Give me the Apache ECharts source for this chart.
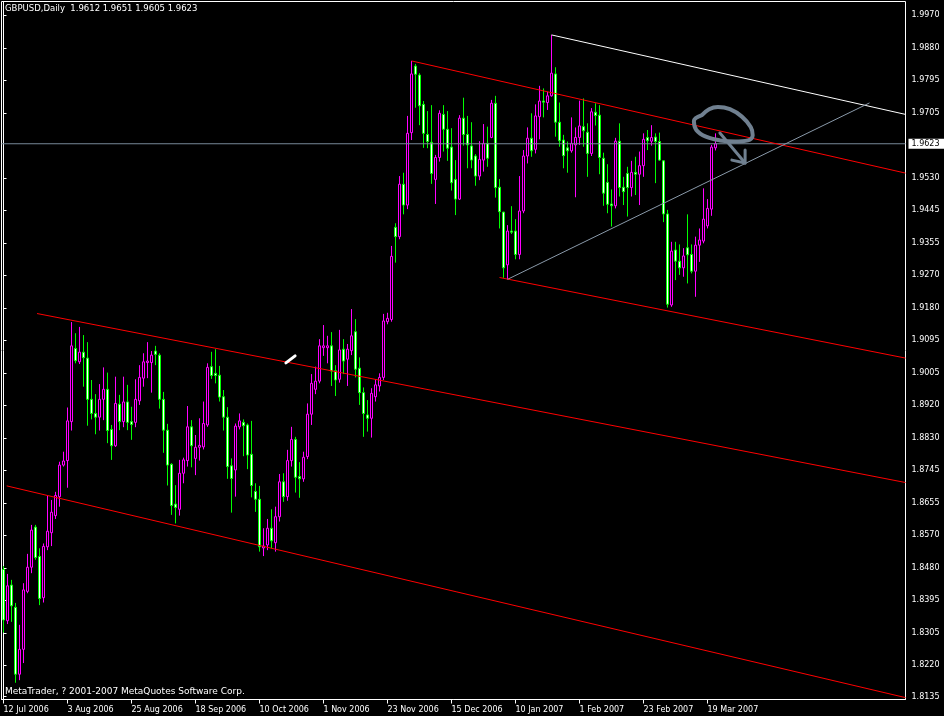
<!DOCTYPE html>
<html><head><meta charset="utf-8">
<script src="https://cdn.jsdelivr.net/npm/echarts@6/dist/echarts.min.js"></script>
<style>html,body{margin:0;padding:0;background:#000;}#c{width:944px;height:716px;}</style>
</head><body><div id="c"></div>
<script>
const SYMBOL = 'GBPUSD', PERIOD = 'Daily';
const COPYRIGHT = 'MetaTrader, ? 2001-2007 MetaQuotes Software Corp.';
const SLOTS = 226;
const X_TICK_LABELS = ['12 Jul 2006','3 Aug 2006','25 Aug 2006','18 Sep 2006','10 Oct 2006','1 Nov 2006','23 Nov 2006','15 Dec 2006','10 Jan 2007','1 Feb 2007','23 Feb 2007','19 Mar 2007'];
const Y_TICK_LABELS = ['1.8135','1.8220','1.8305','1.8395','1.8480','1.8570','1.8655','1.8745','1.8830','1.8920','1.9005','1.9095','1.9180','1.9270','1.9355','1.9445','1.9530','1.9705','1.9795','1.9880','1.9970'];

const OPEN = [1.8477,1.8339,1.8435,1.8375,1.8195,1.8262,1.8418,1.8483,1.8591,1.8512,1.8401,1.8538,1.8576,1.8622,1.8673,1.8758,1.8770,1.8875,1.9072,1.9036,
1.9062,1.9046,1.8935,1.8897,1.8887,1.8935,1.8962,1.8854,1.8810,1.8922,1.8875,1.8928,1.8875,1.8873,1.8931,1.8992,1.9034,1.9034,1.9065,1.9054,
1.8935,1.8852,1.8760,1.8653,1.8639,1.8736,1.8770,1.8861,1.8776,1.8806,1.8807,1.8866,1.9023,1.9005,1.9000,1.8942,1.8887,1.8756,1.8745,1.8861,
1.8873,1.8866,1.8787,1.8687,1.8666,1.8535,1.8543,1.8588,1.8549,1.8619,1.8713,1.8673,1.8770,1.8827,1.8727,1.8721,1.8781,1.8895,1.8962,1.8984,
1.9074,1.9074,1.9079,1.9012,1.8989,1.9070,1.9043,1.9066,1.9117,1.9019,1.8953,1.8893,1.8884,1.8942,1.8971,1.8994,1.9144,1.9150,1.9398,1.9373,
1.9514,1.9458,1.9653,1.9832,1.9808,1.9729,1.9648,1.9627,1.9527,1.9586,1.9702,1.9662,1.9614,1.9527,1.9474,1.9692,1.9648,1.9617,1.9590,1.9536,
1.9579,1.9624,1.9640,1.9732,1.9506,1.9439,1.9297,1.9388,1.9388,1.9325,1.9442,1.9590,1.9638,1.9608,1.9696,1.9738,1.9734,1.9752,1.9811,1.9681,
1.9633,1.9612,1.9604,1.9620,1.9640,1.9669,1.9654,1.9597,1.9708,1.9700,1.9584,1.9519,1.9461,1.9456,1.9630,1.9506,1.9543,1.9505,1.9546,1.9541,
1.9564,1.9640,1.9630,1.9641,1.9629,1.9577,1.9434,1.9189,1.9337,1.9307,1.9289,1.9343,1.9325,1.9280,1.9350,1.9361,1.9402,1.9447,1.9612];
const CLOSE = [1.8341,1.8433,1.8379,1.8195,1.8262,1.8422,1.8483,1.8583,1.8509,1.8399,1.8539,1.8580,1.8631,1.8676,1.8758,1.8769,1.8877,1.9079,1.9039,1.9062,
1.9047,1.8935,1.8897,1.8887,1.8935,1.8962,1.8851,1.8810,1.8924,1.8875,1.8928,1.8873,1.8867,1.8935,1.8994,1.9036,1.9038,1.9054,1.9056,1.8935,
1.8852,1.8758,1.8649,1.8644,1.8736,1.8772,1.8861,1.8810,1.8806,1.8811,1.8870,1.9021,1.8999,1.8999,1.8941,1.8887,1.8754,1.8722,1.8863,1.8877,
1.8864,1.8785,1.8703,1.8666,1.8538,1.8540,1.8588,1.8554,1.8619,1.8713,1.8673,1.8770,1.8827,1.8725,1.8721,1.8779,1.8895,1.8978,1.8984,1.9079,
1.9079,1.9079,1.9011,1.8987,1.9068,1.9038,1.9070,1.9106,1.9016,1.8953,1.8897,1.8884,1.8951,1.8974,1.8994,1.9146,1.9153,1.9320,1.9373,1.9514,
1.9458,1.9651,1.9811,1.9810,1.9725,1.9651,1.9629,1.9543,1.9586,1.9705,1.9662,1.9611,1.9518,1.9474,1.9692,1.9648,1.9620,1.9579,1.9536,1.9581,
1.9624,1.9584,1.9732,1.9505,1.9440,1.9289,1.9388,1.9385,1.9325,1.9442,1.9590,1.9638,1.9604,1.9698,1.9738,1.9735,1.9752,1.9813,1.9681,1.9631,
1.9591,1.9604,1.9624,1.9640,1.9671,1.9658,1.9597,1.9709,1.9699,1.9586,1.9490,1.9460,1.9456,1.9630,1.9505,1.9494,1.9505,1.9546,1.9541,1.9564,
1.9635,1.9631,1.9640,1.9629,1.9579,1.9434,1.9191,1.9334,1.9307,1.9289,1.9321,1.9324,1.9280,1.9350,1.9364,1.9420,1.9449,1.9614,1.9623];
const LOW = [1.8307,1.8330,1.8336,1.8172,1.8179,1.8225,1.8413,1.8467,1.8503,1.8381,1.8388,1.8529,1.8540,1.8613,1.8646,1.8754,1.8697,1.8851,1.9032,1.9030,
1.8969,1.8864,1.8881,1.8841,1.8851,1.8879,1.8817,1.8772,1.8807,1.8852,1.8860,1.8852,1.8826,1.8860,1.8920,1.8969,1.8992,1.8953,1.9027,1.8910,
1.8791,1.8703,1.8624,1.8601,1.8622,1.8709,1.8754,1.8752,1.8731,1.8770,1.8800,1.8861,1.8990,1.8978,1.8929,1.8851,1.8721,1.8630,1.8673,1.8854,
1.8782,1.8747,1.8671,1.8632,1.8525,1.8513,1.8529,1.8534,1.8525,1.8606,1.8659,1.8662,1.8754,1.8684,1.8670,1.8713,1.8774,1.8866,1.8949,1.8978,
1.9052,1.9032,1.8971,1.8944,1.8980,1.9003,1.8971,1.9054,1.8994,1.8920,1.8834,1.8848,1.8832,1.8929,1.8956,1.8987,1.9137,1.9144,1.9303,1.9366,
1.9433,1.9447,1.9633,1.9720,1.9673,1.9612,1.9611,1.9515,1.9461,1.9575,1.9602,1.9577,1.9497,1.9431,1.9472,1.9618,1.9557,1.9557,1.9510,1.9525,
1.9548,1.9561,1.9638,1.9478,1.9395,1.9262,1.9258,1.9380,1.9312,1.9312,1.9436,1.9570,1.9588,1.9597,1.9635,1.9694,1.9714,1.9750,1.9642,1.9615,
1.9557,1.9545,1.9599,1.9479,1.9620,1.9615,1.9534,1.9590,1.9672,1.9541,1.9456,1.9436,1.9400,1.9449,1.9481,1.9458,1.9427,1.9481,1.9485,1.9458,
1.9534,1.9606,1.9618,1.9517,1.9577,1.9412,1.9182,1.9184,1.9256,1.9270,1.9265,1.9247,1.9274,1.9211,1.9305,1.9355,1.9395,1.9429,1.9605];
const HIGH = [1.8486,1.8465,1.8449,1.8387,1.8328,1.8440,1.8519,1.8597,1.8597,1.8534,1.8547,1.8675,1.8664,1.8686,1.8767,1.8794,1.8913,1.9143,1.9113,1.9130,
1.9108,1.9089,1.8987,1.8949,1.8976,1.9021,1.9007,1.8866,1.8996,1.8947,1.8996,1.8974,1.8915,1.8989,1.9027,1.9059,1.9089,1.9065,1.9079,1.9059,
1.8955,1.8869,1.8763,1.8704,1.8772,1.8778,1.8917,1.8879,1.8839,1.8884,1.8929,1.9032,1.9063,1.9070,1.9025,1.8960,1.8914,1.8776,1.8870,1.8897,
1.8881,1.8870,1.8877,1.8709,1.8702,1.8588,1.8613,1.8639,1.8646,1.8734,1.8736,1.8799,1.8861,1.8834,1.8766,1.8794,1.8924,1.9003,1.9023,1.9097,
1.9135,1.9106,1.9116,1.9027,1.9122,1.9097,1.9084,1.9178,1.9151,1.9048,1.8967,1.8933,1.8965,1.8989,1.9005,1.9165,1.9168,1.9348,1.9409,1.9536,
1.9545,1.9698,1.9846,1.9838,1.9813,1.9738,1.9711,1.9727,1.9593,1.9713,1.9727,1.9711,1.9665,1.9579,1.9700,1.9747,1.9698,1.9681,1.9595,1.9630,
1.9676,1.9669,1.9741,1.9752,1.9528,1.9440,1.9404,1.9455,1.9420,1.9536,1.9606,1.9667,1.9705,1.9729,1.9779,1.9772,1.9763,1.9916,1.9829,1.9734,
1.9647,1.9629,1.9694,1.9667,1.9739,1.9745,1.9678,1.9719,1.9732,1.9727,1.9599,1.9568,1.9500,1.9639,1.9678,1.9534,1.9561,1.9577,1.9588,1.9602,
1.9651,1.9660,1.9673,1.9651,1.9653,1.9579,1.9445,1.9359,1.9359,1.9352,1.9342,1.9433,1.9352,1.9373,1.9395,1.9503,1.9474,1.9620,1.9651];

// Drawn objects, in [bar index, price]
const RED_LINES = [
  [[102, 1.9846], [225.5, 1.9544]],
  [[124, 1.9263], [225.5, 1.9046]],
  [[8.375, 1.9166], [225.5, 1.8711]],
  [[0.8, 1.8702], [225.5, 1.8132]]
];
const WHITE_LINE = [[137, 1.9916], [225.5, 1.9702]];
const GRAY_LINE = [[126, 1.9258], [216.5, 1.9733]];
const BID = CLOSE[CLOSE.length - 1];
const LOOP = [[174.6,1.9700],[176.4,1.9716],[178.6,1.9722],[181.6,1.9716],[184.6,1.9696],[186.8,1.9668],[187.3,1.9646],[186.1,1.9632],[182.9,1.9629],[179.1,1.9632],[175.6,1.9642],[173.2,1.9660],[172.6,1.9684],[174.6,1.9700]];
const ARROW_SHAFT = [[179.1,1.9652],[185.4,1.9571]];
const ARROW_HEAD = [[185.4,1.9606],[185.4,1.9571],[182.1,1.9579]];
const MARK = [[70.6,1.9033],[72.9,1.9052]];

const categories = [];
for (let i = 0; i < SLOTS; i++) categories.push(String(i));
const candles = OPEN.map((o, i) => [o, CLOSE[i], LOW[i], HIGH[i]]);
const n = OPEN.length;
const tickShow = (i) => i % 16 === 0 && i < n;
const FONT = 'DejaVu Sans';

function lineSeries(data, color, width, extra) {
  return Object.assign({
    type: 'line', xAxisIndex: 1, yAxisIndex: 0, data: data,
    symbol: 'none', showSymbol: false, silent: true, animation: false,
    lineStyle: { color: color, width: width }, z: 5
  }, extra || {});
}

const chart = echarts.init(document.getElementById('c'), null, { renderer: 'canvas' });
const series = [{
  type: 'candlestick', xAxisIndex: 0, yAxisIndex: 0, data: candles, barWidth: 2,
  itemStyle: { color: '#000000', color0: '#ffffff', borderColor: '#ff00ff', borderColor0: '#00ff00', borderWidth: 1 },
  z: 3
}];
series.push(lineSeries([[-0.5, BID], [SLOTS - 0.5, BID]], '#778899', 1, {
  z: 4,
  endLabel: { show: true, formatter: BID.toFixed(4), color: '#000', backgroundColor: '#fff', distance: 3,
    fontFamily: FONT, fontSize: 8, padding: [1, 6, 1, 3] }
}));
RED_LINES.forEach(l => series.push(lineSeries(l, '#ff0000', 1)));
series.push(lineSeries(WHITE_LINE, '#ffffff', 1));
series.push(lineSeries(GRAY_LINE, '#8a9aaa', 1));
series.push(lineSeries(LOOP, '#708090', 4, { smooth: 0.4, z: 8, lineStyle: { color: '#708090', width: 4, cap: 'round', join: 'round' } }));
series.push(lineSeries(ARROW_SHAFT, '#708090', 3, { z: 8, lineStyle: { color: '#708090', width: 3, cap: 'round' } }));
series.push(lineSeries(ARROW_HEAD, '#708090', 3, { z: 8, lineStyle: { color: '#708090', width: 3, cap: 'round', join: 'round' } }));
series.push(lineSeries(MARK, '#ffffff', 3, { z: 8, lineStyle: { color: '#ffffff', width: 3, cap: 'round' } }));

chart.setOption({
  backgroundColor: '#000000',
  animation: false,
  title: [
    { text: SYMBOL + ',' + PERIOD + '  ' + [OPEN[n-1], HIGH[n-1], LOW[n-1], CLOSE[n-1]].map(v => v.toFixed(4)).join(' '),
      left: 5, top: 4, padding: 0, textStyle: { color: '#fff', fontSize: 8.5, fontWeight: 'normal', fontFamily: FONT } },
    { text: COPYRIGHT, left: 5, top: 687, padding: 0, textStyle: { color: '#fff', fontSize: 9, fontWeight: 'normal', fontFamily: FONT } }
  ],
  grid: { left: 1.5, right: 38.5, top: 1.5, bottom: 16.5, show: true, borderColor: '#ffffff', borderWidth: 1, backgroundColor: '#000000' },
  xAxis: [{
    type: 'category', data: categories, boundaryGap: true, gridIndex: 0,
    axisLine: { show: true, lineStyle: { color: '#ffffff', width: 1 } },
    axisTick: { show: true, alignWithLabel: true, interval: (i) => tickShow(i), length: 4, lineStyle: { color: '#ffffff' } },
    axisLabel: { show: true, interval: (i) => tickShow(i), formatter: (v, i) => X_TICK_LABELS[i / 16] || '', align: 'left',
      color: '#ffffff', fontSize: 8, fontFamily: FONT, margin: 6 },
    splitLine: { show: false }
  }, {
    type: 'value', min: -0.5, max: SLOTS - 0.5, gridIndex: 0, show: false
  }],
  yAxis: [{
    type: 'value', position: 'right', min: 1.812695, max: 2.000596, scale: true,
    axisLine: { show: true, lineStyle: { color: '#ffffff', width: 1 } },
    axisTick: { show: true, length: 3, customValues: Y_TICK_LABELS.map(parseFloat), lineStyle: { color: '#ffffff' } },
    axisLabel: { show: true, customValues: Y_TICK_LABELS.map(parseFloat), formatter: (v) => v.toFixed(4), color: '#ffffff',
      fontSize: 8, fontFamily: FONT, margin: 6, align: 'left' },
    splitLine: { show: false }
  }],
  series: series
});
</script></body></html>
